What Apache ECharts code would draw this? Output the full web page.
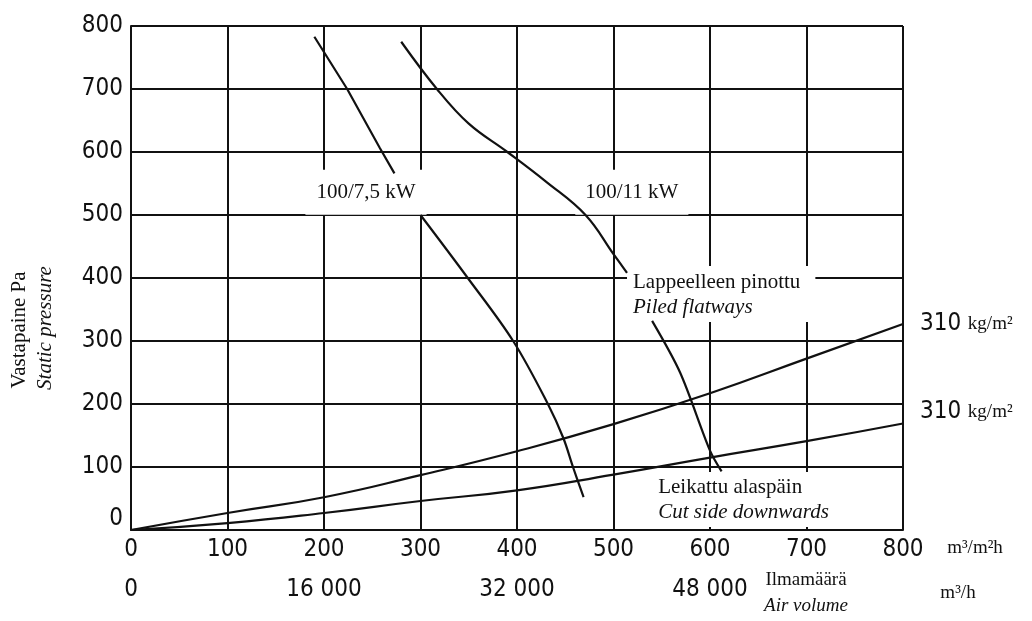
<!DOCTYPE html>
<html>
<head>
<meta charset="utf-8">
<script src="https://cdn.jsdelivr.net/npm/echarts@6/dist/echarts.min.js"></script>
<style>
html,body{margin:0;padding:0;background:#fff;}
#c{width:1032px;height:621px;}
</style>
</head>
<body>
<div id="c"></div>
<script>
// ---- data ----
const airFlow = [0, 100, 200, 300, 400, 500, 600, 700, 800];           // m3/m2h
const resistUpper = [0, 27, 52, 87, 125, 168, 217, 272, 327];          // Pa, 310 kg/m2 (upper)
const resistLower = [0, 11, 27, 46, 63, 88, 115, 141, 169];            // Pa, 310 kg/m2 (lower)
const fan75Upper = [[190, 783], [224, 700], [258, 606], [273, 566]];
const fan75Lower = [[300, 500], [349, 400], [396, 300], [432, 200], [448, 146], [458, 100], [469, 52]];
const fan11Upper = [[280, 775], [317, 700], [350, 645], [390, 600], [430, 553], [471, 500], [500, 438], [514, 408]];
const fan11Lower = [[540, 332], [569, 250], [600, 126], [612, 93]];
const yTicks = [0, 100, 200, 300, 400, 500, 600, 700, 800];
const volumeLabels = ['0', '16 000', '32 000', '48 000'];
const curveLabels = ['100/7,5 kW', '100/11 kW'];
const densityLabel = ['310', 'kg/m²'];

const SANS = "'DejaVu Sans Condensed', 'Liberation Sans Narrow', sans-serif";
const SERIF = "'Liberation Serif', 'DejaVu Serif', serif";
const INK = '#111';

const chart = echarts.init(document.getElementById('c'), null, {renderer: 'canvas'});

const lineStyleCommon = {color: INK, width: 2.2};
function curve(name, data, smooth) {
  return {
    name, type: 'line', data, xAxisIndex: 0, yAxisIndex: 0,
    showSymbol: false, symbol: 'none', smooth: smooth, z: 3,
    lineStyle: lineStyleCommon, silent: true, animation: false
  };
}
function resist(name, vals, dy) {
  return {
    name, type: 'line', data: airFlow.map((x, i) => [x, vals[i]]),
    xAxisIndex: 0, yAxisIndex: 0, showSymbol: false, symbol: 'none',
    smooth: 0.5, z: 3, lineStyle: lineStyleCommon, animation: false, silent: true,
    endLabel: {
      show: true, distance: 17, offset: [0, dy], color: INK,
      formatter: '{n|' + densityLabel[0] + '}  {u|' + densityLabel[1] + '}',
      rich: {
        n: {fontFamily: SANS, fontSize: 24, color: INK},
        u: {fontFamily: SERIF, fontSize: 19, color: INK}
      }
    }
  };
}

const boxLabel = (extra) => Object.assign({
  show: true, color: INK, opacity: 1, backgroundColor: '#fff', fontFamily: SERIF, fontSize: 21
}, extra);
const richBox = {
  a: {fontFamily: SERIF, fontSize: 21, lineHeight: 25, color: INK},
  b: {fontFamily: SERIF, fontStyle: 'italic', fontSize: 21, lineHeight: 25, color: INK}
};

const option = {
  backgroundColor: '#fff',
  animation: false,
  grid: {left: 131, right: 129, top: 26, bottom: 91, containLabel: false},
  xAxis: [{
    type: 'value', min: 0, max: 800, interval: 100, position: 'bottom',
    axisLine: {show: true, lineStyle: {color: INK, width: 2}},
    axisTick: {show: false},
    splitLine: {show: true, lineStyle: {color: INK, width: 2}},
    axisLabel: {margin: 8, fontFamily: SANS, fontSize: 24, color: INK}
  }, {
    type: 'value', min: 0, max: 800, interval: 200, position: 'bottom', offset: 40,
    axisLine: {show: false}, axisTick: {show: false}, splitLine: {show: false},
    axisLabel: {margin: 8, fontFamily: SANS, fontSize: 24, color: INK,
      formatter: v => { const i = v / 200; return volumeLabels[i] !== undefined ? volumeLabels[i] : ''; }}
  }],
  yAxis: {
    type: 'value', min: yTicks[0], max: yTicks[yTicks.length - 1], interval: 100,
    axisLine: {show: true, lineStyle: {color: INK, width: 2}},
    axisTick: {show: false},
    splitLine: {show: true, lineStyle: {color: INK, width: 2}},
    axisLabel: {margin: 8, fontFamily: SANS, fontSize: 24, color: INK,
      formatter: v => v === 0 ? '{z|0}' : String(v),
      rich: {z: {fontFamily: SANS, fontSize: 24, color: INK, padding: [0, 0, 22, 0]}}}
  },
  series: [
    resist('upper', resistUpper, 0),
    resist('lower', resistLower, -12),
    curve('fan75a', fan75Upper, false),
    curve('fan75b', fan75Lower, 0.35),
    curve('fan11a', fan11Upper, 0.4),
    curve('fan11b', fan11Lower, 0.3),
    {
      type: 'scatter', xAxisIndex: 0, yAxisIndex: 0, symbolSize: 0, z: 1, silent: true,
      itemStyle: {opacity: 1},
      data: [
        {value: [243.5, 536], label: boxLabel({formatter: curveLabels[0], position: 'inside', align: 'center', verticalAlign: 'middle', padding: [12, 11, 12, 11]})},
        {value: [519, 536], label: boxLabel({formatter: curveLabels[1], position: 'inside', align: 'center', verticalAlign: 'middle', padding: [12, 10, 12, 10]})},
        {value: [514, 419], label: boxLabel({
          formatter: '{a|Lappeelleen pinottu}\n{b|Piled flatways}', position: [0, 0], align: 'left', verticalAlign: 'top',
          padding: [4, 15, 2, 6], rich: richBox
        })},
        {value: [538, 92], label: boxLabel({
          formatter: '{a|Leikattu alaspäin}\n{b|Cut side downwards}', position: [0, 0], align: 'left', verticalAlign: 'top',
          padding: [3, 8, 2, 8], rich: richBox
        })}
      ]
    }
  ],
  graphic: [
    {type: 'text', x: 19, y: 330, rotation: Math.PI / 2, silent: true,
     style: {text: 'Vastapaine Pa', font: "21px " + SERIF, fill: INK, textAlign: 'center', textVerticalAlign: 'middle'}},
    {type: 'text', x: 45, y: 328, rotation: Math.PI / 2, silent: true,
     style: {text: 'Static pressure', font: "italic 21px " + SERIF, fill: INK, textAlign: 'center', textVerticalAlign: 'middle'}},
    {type: 'text', x: 975, y: 548, silent: true,
     style: {text: 'm³/m²h', font: "19px " + SERIF, fill: INK, textAlign: 'center', textVerticalAlign: 'middle'}},
    {type: 'text', x: 806, y: 580, silent: true,
     style: {text: 'Ilmamäärä', font: "19px " + SERIF, fill: INK, textAlign: 'center', textVerticalAlign: 'middle'}},
    {type: 'text', x: 806, y: 606, silent: true,
     style: {text: 'Air volume', font: "italic 19px " + SERIF, fill: INK, textAlign: 'center', textVerticalAlign: 'middle'}},
    {type: 'text', x: 958, y: 593, silent: true,
     style: {text: 'm³/h', font: "19px " + SERIF, fill: INK, textAlign: 'center', textVerticalAlign: 'middle'}}
  ]
};
chart.setOption(option);
</script>
</body>
</html>
